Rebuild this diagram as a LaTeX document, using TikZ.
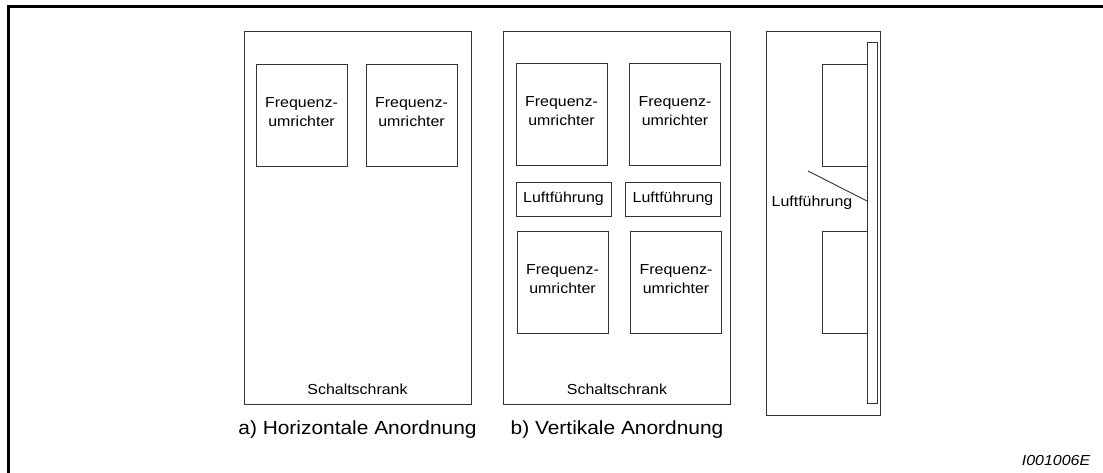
\documentclass[tikz,border=0pt]{standalone}
\usepackage{fontspec}
\setmainfont{Liberation Sans}[FakeStretch=1.1]
\usetikzlibrary{positioning, calc}

\begin{document}
\begin{tikzpicture}[x=1pt,y=-1pt,
    schrank/.style={rectangle,draw=black!80,line width=0.9pt,minimum width=227pt,minimum height=373pt},
    fu/.style={rectangle,draw=black!80,line width=0.9pt,minimum width=91pt,minimum height=102pt,align=center,text depth=6pt,font=\fontsize{14.5}{19}\selectfont},
    luft/.style={rectangle,draw=black!80,line width=0.9pt,minimum width=95pt,minimum height=34pt,font=\fontsize{14.5}{19}\selectfont},
    klein/.style={font=\fontsize{14.5}{19}\selectfont},
    titel/.style={font=\fontsize{19}{23}\selectfont}]
    \useasboundingbox (0,0) rectangle (1103,473);
    % Rahmen
    \draw[line width=3pt] (8,473) -- (8,7) -- (1103,7);

    % a) Horizontale Anordnung
    \node[schrank] (schrankA) at (357.5,217.5) {};
    \node[fu] (fuA1) at (301.5,115) {Frequenz-\\umrichter};
    \node[fu] (fuA2) at (411.5,115) {Frequenz-\\umrichter};
    \node[klein,above=6.5pt of schrankA.south] (textA) {Schaltschrank};
    \node[titel,below=13pt of schrankA.south] (titelA) {a) Horizontale Anordnung};

    % b) Vertikale Anordnung
    \node[schrank] (schrankB) at (617,217.5) {};
    \node[fu] (fuB1) at (561.5,114.5) {Frequenz-\\umrichter};
    \node[fu] (fuB2) at (675,114.5) {Frequenz-\\umrichter};
    \node[luft] (luftB1) at (563.5,199) {Luftführung};
    \node[luft] (luftB2) at (673,199) {Luftführung};
    \node[fu] (fuB3) at (562.5,282) {Frequenz-\\umrichter};
    \node[fu] (fuB4) at (676,282) {Frequenz-\\umrichter};
    \node[klein,above=6.5pt of schrankB.south] (textB) {Schaltschrank};
    \node[titel,below=13pt of schrankB.south] (titelB) {b) Vertikale Anordnung};

    % Seitenansicht
    \node[schrank,minimum width=114pt,minimum height=384pt] (seite) at (823,223) {};
    \node[schrank,minimum width=10pt,minimum height=361pt] (kanal) at (872,222.5) {};
    \node[fu,minimum width=45pt] (fuC1) at (845,115) {};
    \node[fu,minimum width=45pt] (fuC2) at (845,282) {};
    \node[klein] (luftC) at (812,203) {Luftführung};
    \coordinate (zeiger) at (808,171);
    \coordinate (luftziel) at (867,201);
    \draw[draw=black!80,line width=0.9pt] (zeiger) -- (luftziel);

    \node[font=\fontsize{14.5}{18}\selectfont\itshape] (bildnr) at (1056,461) {I001006E};
\end{tikzpicture}
\end{document}
